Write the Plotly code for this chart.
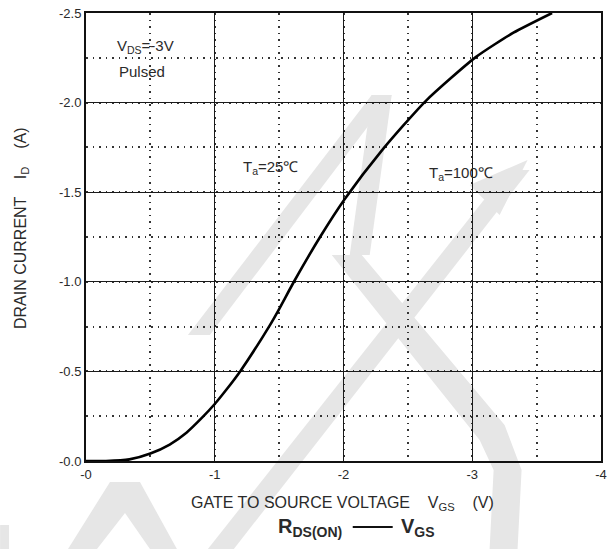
import plotly.graph_objects as go

# Data: |VGS| in volts, |ID| in amps
vgs = [0.0, 0.155, 0.337, 0.5, 0.65, 0.78, 0.907, 1.0, 1.088, 1.197, 1.43, 1.5, 1.617,
       1.818, 2.01, 2.3, 2.64, 3.03, 3.32, 3.62]
id_ = [0.0, 0.0, 0.009, 0.042, 0.092, 0.158, 0.246, 0.318, 0.396, 0.5, 0.76, 0.848, 1.003,
       1.25, 1.462, 1.735, 2.01, 2.255, 2.39, 2.5]
x_vals = [-v for v in vgs]
y_vals = [-i for i in id_]

x_tickvals = [0, -1, -2, -3, -4]
x_ticktext = ["-0", "-1", "-2", "-3", "-4"]
y_tickvals = [0, -0.5, -1.0, -1.5, -2.0, -2.5]
y_ticktext = ["-0.0", "-0.5", "-1.0", "-1.5", "-2.0", "-2.5"]

FONT = "Liberation Sans, Arial, sans-serif"
TXT = "#2a2a2a"

# plot area in pixels
L, R, T, B = 86, 7.5, 13, 88
WW, HH = 609, 549
W, H = WW - L - R, HH - T - B


def px(x, y):
    return (x - L) / W, 1 - (y - T) / H


fig = go.Figure()
fig.add_trace(go.Scatter(x=x_vals, y=y_vals, mode="lines",
                         line=dict(color="black", width=2.6, shape="spline", smoothing=0.6),
                         hoverinfo="skip", showlegend=False))

# light gray watermark strokes (pixel polygons -> paper coords)
wm_polys = [
    [(110, 482), (140, 482), (177, 549), (150, 549), (125, 513), (97, 549), (68, 549)],
    [(0, 525), (9, 525), (9, 549), (0, 549)],
    [(188, 335), (210, 335), (392, 95), (372, 95)],
    [(372, 95), (392, 95), (370, 255), (350, 255)],
    [(332, 255), (362, 255), (505, 425), (522, 470), (518, 549), (490, 549), (494, 470), (480, 440)],
    [(208, 549), (234, 549), (530, 170), (508, 170)],
    [(470, 185), (528, 160), (500, 215)],
]
shapes = []
for poly in wm_polys:
    pts = [px(x, y) for x, y in poly]
    path = "M " + " L ".join(f"{a:.4f},{b:.4f}" for a, b in pts) + " Z"
    shapes.append(dict(type="path", xref="paper", yref="paper", path=path,
                       fillcolor="#e6e6e6", line=dict(width=0), layer="below"))

# dash between R_DS(ON) and V_GS
x0, y0 = px(353, 527)
x1, _ = px(393, 527)
shapes.append(dict(type="line", xref="paper", yref="paper", x0=x0, x1=x1, y0=y0, y1=y0,
                   line=dict(color="#111", width=2)))

grid_major = dict(showgrid=True, gridcolor="#1a1a1a", gridwidth=1.3)
fig.update_layout(
    width=WW, height=HH,
    margin=dict(l=L, r=R, t=T, b=B, autoexpand=False),
    paper_bgcolor="white", plot_bgcolor="rgba(0,0,0,0)",
    font=dict(family=FONT, size=13, color=TXT),
    shapes=shapes,
    xaxis=dict(range=[0, -4], tickvals=x_tickvals, ticktext=x_ticktext, automargin=False,
               **grid_major,
               minor=dict(dtick=0.5, showgrid=True, gridcolor="#333", griddash="1.5px,5px", gridwidth=1.6),
               showline=True, linecolor="#111", linewidth=2, mirror=True,
               ticks="", zeroline=False, ticklabeloverflow="allow",
               tickfont=dict(size=13, color=TXT)),
    yaxis=dict(range=[0, -2.5], tickvals=y_tickvals, ticktext=y_ticktext, automargin=False,
               **grid_major,
               minor=dict(dtick=0.25, showgrid=True, gridcolor="#333", griddash="1.5px,5px", gridwidth=1.6),
               showline=True, linecolor="#111", linewidth=2, mirror=True,
               ticks="", zeroline=False, ticklabeloverflow="allow",
               tickfont=dict(size=13, color=TXT)),
)

ann = [
    dict(text="V<sub>DS</sub>=-3V", x=146, y=46, size=15, angle=0),
    dict(text="Pulsed", x=142, y=71, size=15, angle=0),
    dict(text="T<sub>a</sub>=25℃", x=271, y=167, size=15, angle=0),
    dict(text="T<sub>a</sub>=100℃", x=461, y=173, size=15, angle=0),
    dict(text="GATE TO SOURCE VOLTAGE    V<sub>GS</sub>    (V)", x=343, y=503, size=16, angle=0),
    dict(text="DRAIN CURRENT    I<sub>D</sub>    (A)", x=21, y=228, size=16, angle=-90),
    dict(text="<b>R<sub>DS(ON)</sub></b>", x=310, y=527, size=20, angle=0),
    dict(text="<b>V<sub>GS</sub></b>", x=418, y=527, size=20, angle=0),
]
for a in ann:
    ax, ay = px(a["x"], a["y"])
    fig.add_annotation(text=a["text"], xref="paper", yref="paper", x=ax, y=ay,
                       xanchor="center", yanchor="middle", showarrow=False,
                       textangle=a["angle"],
                       font=dict(family=FONT, size=a["size"], color=TXT))

fig.write_html("out.html", config={"displayModeBar": False},
               post_script="document.body.style.margin='0';document.body.style.padding='0';")
